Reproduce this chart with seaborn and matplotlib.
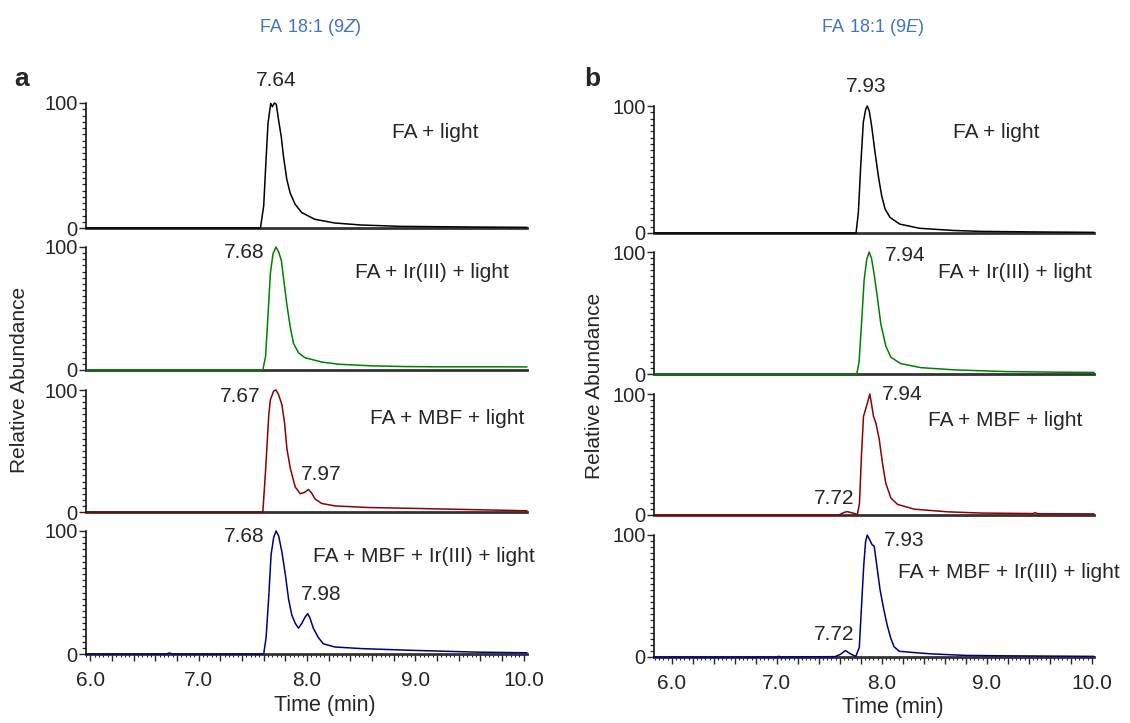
import numpy as np
import pandas as pd
import matplotlib
matplotlib.use("Agg")
import matplotlib.pyplot as plt
import seaborn as sns
from matplotlib.ticker import MultipleLocator, FuncFormatter

# ---------------- data ----------------
# Left column: FA 18:1 (9Z)
z_light_t = [5.96, 7.0, 7.57, 7.60, 7.62, 7.64, 7.665, 7.68, 7.698, 7.716, 7.737, 7.762, 7.783,
             7.813, 7.844, 7.89, 7.95, 8.07, 8.255, 8.50, 8.865, 9.5, 10.03]
z_light_y = [0, 0, 0, 17.7, 52, 84, 99.7, 97, 100, 99, 86.5, 73, 57,
             39, 28, 19, 12.4, 7, 4, 2.4, 1.3, 0.8, 0.5]

z_ir_t = [5.96, 7.0, 7.592, 7.617, 7.64, 7.662, 7.686, 7.714, 7.738, 7.763, 7.784, 7.814, 7.845,
          7.875, 7.921, 7.98, 8.135, 8.29, 8.59, 8.90, 9.20, 9.81, 10.03]
z_ir_y = [0, 0, 0, 11, 45, 79, 94.5, 100, 96, 89, 74, 53, 35,
          21.6, 14, 10, 6.5, 4.7, 3.4, 2.8, 2.6, 2.6, 2.5]

z_mbf_t = [5.96, 7.0, 7.592, 7.617, 7.647, 7.662, 7.692, 7.714, 7.738, 7.768, 7.793, 7.814, 7.845,
           7.891, 7.937, 7.976, 8.013, 8.043, 8.074, 8.135, 8.257, 8.56, 8.96, 9.5, 10.03]
z_mbf_y = [0, 0, 0, 33.6, 80, 92, 99.2, 100, 96, 88, 72.7, 52, 36,
           20.5, 15, 16, 18.5, 15.4, 10.7, 7, 5, 3.7, 3, 2, 1]

z_mbfir_t = [5.96, 6.70, 6.73, 6.76, 7.60, 7.622, 7.647, 7.668, 7.692, 7.714, 7.738, 7.768, 7.799,
             7.83, 7.86, 7.891, 7.921, 7.952, 7.982, 8.006, 8.028, 8.058, 8.104, 8.15, 8.257,
             8.50, 8.96, 9.57, 10.03]
z_mbfir_y = [0, 0, 0.8, 0, 0, 13.4, 47, 80.6, 94.8, 100, 96, 83, 65,
             44.4, 31.5, 25, 21, 25, 30, 32.8, 29, 21, 13.4, 8.3, 5.7,
             4.4, 3, 1.5, 1]

# Right column: FA 18:1 (9E)
e_light_t = [5.83, 7.0, 7.754, 7.776, 7.80, 7.823, 7.846, 7.861, 7.88, 7.903, 7.935, 7.966, 7.998,
             8.03, 8.077, 8.17, 8.36, 8.68, 8.93, 9.5, 10.02]
e_light_y = [0, 0, 0, 16, 55, 87, 97.4, 100, 96, 84, 63.4, 45, 29.3,
             19, 12.3, 7, 3.7, 2, 1.3, 0.8, 0.5]

e_ir_t = [5.83, 7.0, 7.761, 7.783, 7.806, 7.831, 7.856, 7.879, 7.901, 7.926, 7.959, 7.99, 8.038,
          8.086, 8.18, 8.373, 8.69, 9.17, 9.65, 10.02]
e_ir_y = [0, 0, 0, 10, 41, 77, 94, 100, 95, 82, 61.6, 41, 22.8,
          13.7, 8.5, 5.2, 3.4, 2, 1.5, 1.3]

e_mbf_t = [5.83, 7.0, 7.59, 7.64, 7.67, 7.72, 7.767, 7.787, 7.806, 7.825, 7.847, 7.869, 7.885,
           7.901, 7.92, 7.943, 7.974, 8.007, 8.038, 8.086, 8.15, 8.31, 8.63, 8.95, 9.44, 9.46,
           9.48, 10.02]
e_mbf_y = [0, 0, 0, 2.1, 2.8, 1.7, 0.5, 10, 50, 81.5, 88, 94.7, 100,
           92, 81.5, 76, 63, 42, 26, 14, 8.7, 4.8, 2.6, 1.6, 1.2, 2.0,
           1.1, 0.9]

e_mbfir_t = [5.83, 7.0, 7.02, 7.04, 7.554, 7.603, 7.653, 7.70, 7.752, 7.785, 7.808, 7.828, 7.845,
             7.861, 7.884, 7.907, 7.927, 7.95, 7.983, 8.017, 8.05, 8.083, 8.116, 8.165, 8.298,
             8.463, 8.793, 9.124, 10.02]
e_mbfir_y = [0, 0, 0.6, 0, 0.3, 2.1, 5.3, 2.6, 0.5, 7.9, 44.7, 76, 94.7,
             100, 96, 92, 90.8, 76, 55, 39.5, 26.3, 15.8, 8.4, 4.7, 3.7,
             2.6, 1.3, 1.0, 0.5]

conditions = ["FA + light", "FA + Ir(III) + light", "FA + MBF + light", "FA + MBF + Ir(III) + light"]
trace_colors = ["#000000", "#008000", "#8B0000", "#000080"]

left_series = [(z_light_t, z_light_y), (z_ir_t, z_ir_y), (z_mbf_t, z_mbf_y), (z_mbfir_t, z_mbfir_y)]
right_series = [(e_light_t, e_light_y), (e_ir_t, e_ir_y), (e_mbf_t, e_mbf_y), (e_mbfir_t, e_mbfir_y)]

left_peak_labels = [["7.64"], ["7.68"], ["7.67", "7.97"], ["7.68", "7.98"]]
right_peak_labels = [["7.93"], ["7.94"], ["7.94", "7.72"], ["7.93", "7.72"]]

x_ticklabels = ["6.0", "7.0", "8.0", "9.0", "10.0"]
titles = [r"FA 18:1 (9$\mathit{Z}$)", r"FA 18:1 (9$\mathit{E}$)"]

# ---------------- style ----------------
sns.set_style("ticks")
plt.rcParams['font.family'] = ['Liberation Sans', 'DejaVu Sans']
plt.rcParams['mathtext.fontset'] = 'custom'
plt.rcParams['mathtext.rm'] = 'Liberation Sans'
plt.rcParams['mathtext.it'] = 'Liberation Sans:italic'

FS = 15
TFS = 14.5
W, H = 1130, 723
fig = plt.figure(figsize=(W / 100, H / 100), dpi=100)


def px_axes(x0, x1, ytop, ybot):
    return fig.add_axes([x0 / W, 1 - ybot / H, (x1 - x0) / W, (ybot - ytop) / H])


def ftext(x, y, s, **kw):
    kw.setdefault("fontsize", FS)
    kw.setdefault("va", "center")
    fig.text(x / W, 1 - y / H, s, **kw)


left_rows = [(103, 228), (247, 370), (390, 512), (531, 654)]
right_rows = [(106, 233), (252, 374), (394, 515), (535, 657)]
left_x = (86, 527, 5.96, 10.03)
right_x = (654, 1094, 5.83, 10.02)


def style_axis(ax, xlim, bottom):
    ax.set_xlim(*xlim)
    ax.set_ylim(0, 100)
    for s in ("top", "right"):
        ax.spines[s].set_visible(False)
    ax.spines["left"].set_linewidth(1.1)
    ax.spines["left"].set_color("black")
    ax.spines["bottom"].set_linewidth(2.0)
    ax.spines["bottom"].set_color("#333333")
    ax.spines["bottom"].set_zorder(1)
    ax.set_yticks([0, 100])
    ax.set_yticklabels(["0", "100"])
    ax.yaxis.set_minor_locator(MultipleLocator(5))
    ax.tick_params(axis="y", which="major", direction="out", length=5, width=1,
                   labelsize=TFS, pad=1)
    ax.tick_params(axis="y", which="minor", direction="out", length=3, width=0.9)
    ax.set_xlabel("")
    ax.set_ylabel("")
    if bottom:
        ax.xaxis.set_major_locator(MultipleLocator(0.2))
        ax.xaxis.set_minor_locator(MultipleLocator(0.04))
        lab = {6: x_ticklabels[0], 7: x_ticklabels[1], 8: x_ticklabels[2],
               9: x_ticklabels[3], 10: x_ticklabels[4]}

        def fmt(v, pos):
            r = round(v)
            return lab.get(r, "") if abs(v - r) < 1e-6 else ""
        ax.xaxis.set_major_formatter(FuncFormatter(fmt))
        ax.tick_params(axis="x", which="major", direction="out", length=5, width=1,
                       labelsize=TFS + 0.5, pad=7)
        ax.tick_params(axis="x", which="minor", direction="out", length=2.5, width=0.8)
    else:
        ax.tick_params(axis="x", which="both", bottom=False, labelbottom=False)


for col, (rows, xspec, series) in enumerate([(left_rows, left_x, left_series),
                                              (right_rows, right_x, right_series)]):
    x0, x1, tmin, tmax = xspec
    for i, (ytop, ybot) in enumerate(rows):
        ax = px_axes(x0, x1, ytop, ybot)
        t, y = series[i]
        df = pd.DataFrame({"Time (min)": t, "Relative Abundance": y})
        sns.lineplot(data=df, x="Time (min)", y="Relative Abundance", ax=ax,
                     color=trace_colors[i], linewidth=1.1, sort=False,
                     estimator=None, clip_on=False, zorder=3)
        style_axis(ax, (tmin, tmax), bottom=(i == 3))

# ---------------- annotations ----------------
ftext(310, 27, titles[0], color="#4472C4", ha="center", fontsize=13)
ftext(872, 27, titles[1], color="#4472C4", ha="center", fontsize=13)
ftext(22, 79, "a", ha="center", fontsize=19, fontweight="bold")
ftext(592, 79, "b", ha="center", fontsize=19, fontweight="bold")
ftext(20, 380, "Relative Abundance", ha="center", rotation=90)
ftext(594, 386, "Relative Abundance", ha="center", rotation=90)
ftext(325, 706, "Time (min)", ha="center", fontsize=15.5)
ftext(893, 708, "Time (min)", ha="center", fontsize=15.5)

# left condition labels and peak labels
ftext(392, 133, conditions[0], ha="left")
ftext(355, 272, conditions[1], ha="left")
ftext(370, 418, conditions[2], ha="left")
ftext(313, 557, conditions[3], ha="left")
ftext(276, 81, left_peak_labels[0][0], ha="center")
ftext(244, 252, left_peak_labels[1][0], ha="center")
ftext(240, 396, left_peak_labels[2][0], ha="center")
ftext(321, 474, left_peak_labels[2][1], ha="center")
ftext(244, 537, left_peak_labels[3][0], ha="center")
ftext(321, 595, left_peak_labels[3][1], ha="center")

# right condition labels and peak labels
ftext(953, 133, conditions[0], ha="left")
ftext(938, 272, conditions[1], ha="left")
ftext(928, 420, conditions[2], ha="left")
ftext(898, 573, conditions[3], ha="left")
ftext(866, 87, right_peak_labels[0][0], ha="center")
ftext(905, 255, right_peak_labels[1][0], ha="center")
ftext(902, 395, right_peak_labels[2][0], ha="center")
ftext(834, 498, right_peak_labels[2][1], ha="center")
ftext(904, 540, right_peak_labels[3][0], ha="center")
ftext(834, 634, right_peak_labels[3][1], ha="center")

fig.savefig("out.png", dpi=100)
